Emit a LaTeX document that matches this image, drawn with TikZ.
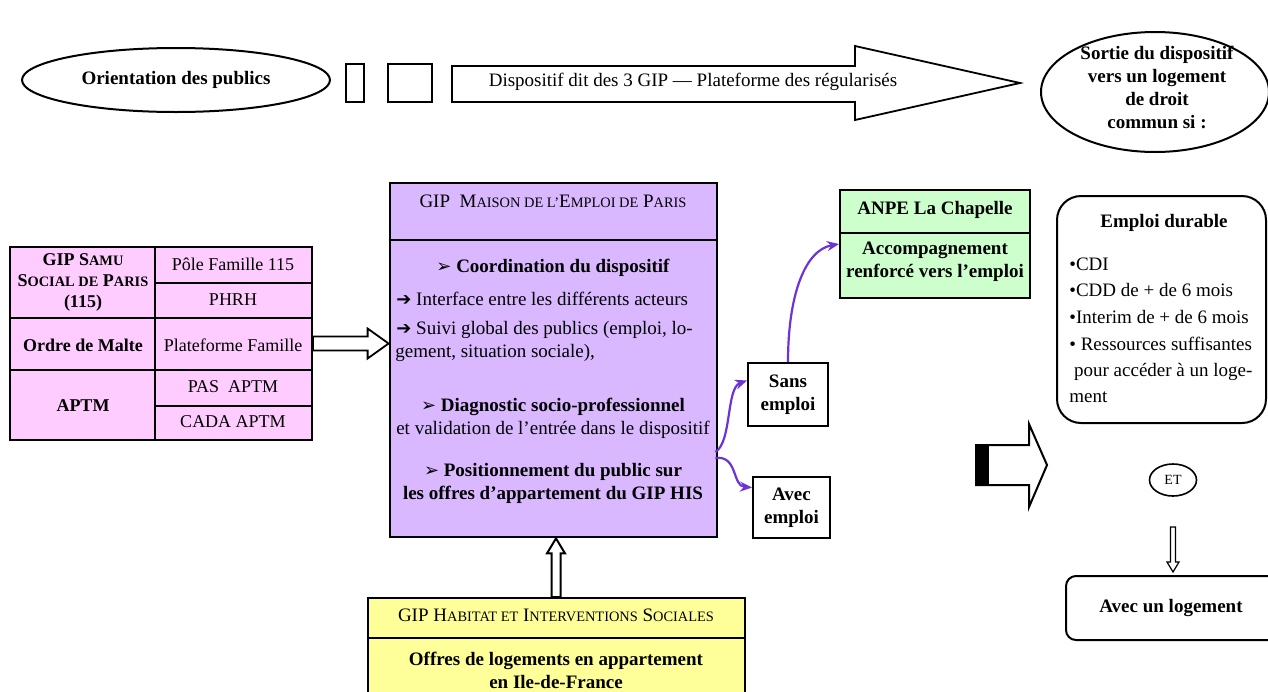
\documentclass[tikz,border=0pt]{standalone}
\usepackage{fontspec}
\setmainfont{Liberation Serif}
\newfontfamily\symfont{DejaVu Sans}
\usetikzlibrary{shapes.geometric,arrows.meta,calc}
\definecolor{pinkc}{RGB}{255,204,255}
\definecolor{lavc}{RGB}{217,184,255}
\definecolor{greenc}{RGB}{204,255,204}
\definecolor{yellowc}{RGB}{255,255,153}
\definecolor{purplec}{RGB}{108,52,214}
\newcommand\smallcap[1]{{\fontsize{7.2}{8}\selectfont #1}}
\newcommand\darr{{\symfont\fontsize{9}{9}\selectfont ➢}}
\newcommand\rarr{{\symfont\fontsize{9}{9}\selectfont ➔}}
\begin{document}
\begin{tikzpicture}[x=0.5pt,y=-0.5pt,
  txt/.style={font=\fontsize{9.5}{11.5}\selectfont, inner sep=0pt, align=center},
  btxt/.style={txt, font=\fontsize{9.5}{11.5}\selectfont\bfseries},
  boxline/.style={draw, line width=1pt},
  hollow/.style={draw, line width=0.9pt, fill=white, line join=miter},
  curvearrow/.style={draw=purplec, line width=1.1pt, -{Stealth[length=6pt,width=5pt]}}
]
\useasboundingbox (0,0) rectangle (1268,691);
\clip (0,0) rectangle (1268,691);

% ---------- top row ----------
\node[boxline, ellipse, minimum width=154pt, minimum height=32pt, inner sep=0pt, btxt] (orient) at (176,80) {Orientation des publics};
\node[boxline, minimum width=9pt, minimum height=19pt, inner sep=0pt] (sqa) at (355,83) {};
\node[boxline, minimum width=22pt, minimum height=19pt, inner sep=0pt] (sqb) at (410,83) {};
\draw[hollow] (452,66) -- (855,66) -- (855,46) -- (1020,83) -- (855,120) -- (855,102) -- (452,102) -- cycle;
\node[txt] (flow) at (693,82) {Dispositif dit des 3 GIP — Plateforme des régularisés};
\node[boxline, ellipse, minimum width=114pt, minimum height=60pt, inner sep=0pt] (sortie) at (1155,92) {};
\node[btxt] (sortietxt) at (1157,87) {Sortie du dispositif\\vers un logement\\de droit\\commun si :};

% ---------- left table ----------
\node[boxline, fill=pinkc, minimum width=151pt, minimum height=96.5pt, inner sep=0pt] (tbl) at (161,343.5) {};
\draw[line width=1pt] (155,247) -- (155,440);
\draw[line width=1pt] (10,318) -- (312,318);
\draw[line width=1pt] (10,370) -- (312,370);
\draw[line width=1pt] (155,283) -- (312,283);
\draw[line width=1pt] (155,406) -- (312,406);
\node[btxt, font=\fontsize{9}{10.5}\selectfont\bfseries] (samu) at (83,282) {GIP S\smallcap{AMU}\\S\smallcap{OCIAL DE} P\smallcap{ARIS}\\(115)};
\node[txt, font=\fontsize{9}{10.5}\selectfont] (pole) at (233,264) {Pôle Famille 115};
\node[txt, font=\fontsize{9}{10.5}\selectfont] (phrh) at (233,300) {PHRH};
\node[btxt, font=\fontsize{9}{10.5}\selectfont\bfseries] (malte) at (83,345) {Ordre de Malte};
\node[txt, font=\fontsize{9}{10.5}\selectfont] (platf) at (233,345) {Plateforme Famille};
\node[btxt, font=\fontsize{9}{10.5}\selectfont\bfseries] (aptm) at (83,406) {APTM};
\node[txt, font=\fontsize{9}{10.5}\selectfont] (pas) at (233,387) {PAS\ \ APTM};
\node[txt, font=\fontsize{9}{10.5}\selectfont] (cada) at (233,422) {CADA APTM};

% ---------- central box ----------
\node[draw, line width=1.4pt, fill=lavc, minimum width=163.5pt, minimum height=177pt, inner sep=0pt] (maison) at (553.5,360) {};
\draw[line width=1pt] (maison.west |- 0,240) -- (maison.east |- 0,240);
\node[txt] (mhead) at (553,201) {GIP\ \ M\smallcap{AISON DE L’}E\smallcap{MPLOI DE} P\smallcap{ARIS}};
\node[btxt] (coord) at (553,268) {\darr\ Coordination du dispositif};
\node[txt, anchor=west] (iface) at (396,299) {\rarr\ Interface entre les différents acteurs};
\node[txt, anchor=west] (suivi) at (396,330) {\rarr\ Suivi global des publics (emploi, lo-};
\node[txt, anchor=west] (suivib) at (395,353) {gement, situation sociale),};
\node[btxt] (diag) at (553,407) {\darr\ Diagnostic socio-professionnel};
\node[txt] (valid) at (553,430) {et validation de l’entrée dans le dispositif};
\node[btxt] (posit) at (553,483) {\darr\ Positionnement du public sur\\les offres d’appartement du GIP HIS};

% arrow table -> central box
\coordinate (ta) at (tbl.east);
\coordinate (tb) at (maison.west |- tbl.east);
\draw[hollow] ($(ta)+(0,-7)$) -- ($(tb)+(-21,-7)$) -- ($(tb)+(-21,-15)$) -- (tb) -- ($(tb)+(-21,15)$) -- ($(tb)+(-21,7)$) -- ($(ta)+(0,7)$) -- cycle;

% ---------- Sans / Avec emploi ----------
\node[boxline, fill=white, minimum width=40pt, minimum height=31.5pt, inner sep=0pt, btxt] (sans) at (788,394.5) {Sans\\emploi};
\node[boxline, fill=white, minimum width=38.5pt, minimum height=30.5pt, inner sep=0pt, btxt] (avec) at (791.5,507.5) {Avec\\emploi};

% ---------- ANPE ----------
\node[boxline, fill=greenc, minimum width=95pt, minimum height=54pt, inner sep=0pt] (anpe) at (935,244) {};
\draw[line width=1pt] (anpe.west |- 0,233) -- (anpe.east |- 0,233);
\node[btxt] (anpetitle) at (935,210) {ANPE La Chapelle};
\node[btxt] (anpebody) at (935,262) {Accompagnement\\renforcé vers l’emploi};

% purple connectors
\coordinate (m1) at ($(maison.east)+(-3,92)$);
\coordinate (m2) at ($(maison.east)+(-3,98)$);
\draw[curvearrow] (m1) .. controls (732,442) and (726,388) .. ($(sans.west)+(0,-14)$);
\draw[curvearrow] (m2) .. controls (738,455) and (732,486) .. ($(avec.west)+(0,-20)$);
\draw[curvearrow] (sans.north) .. controls (788,295) and (805,250) .. (anpe.west);

% ---------- right column ----------
\node[draw, line width=1pt, rounded corners=12pt, minimum width=104.5pt, minimum height=113.5pt, inner sep=0pt] (durable) at (1161.5,309.5) {};
\node[btxt] (durtitle) at (1164,223) {Emploi durable};
\node[txt, anchor=west, align=left, font=\fontsize{9.5}{13}\selectfont] (durlist) at (1069,330) {•CDI\\[0.3pt]•CDD de + de 6 mois\\[0.3pt]•Interim de + de 6 mois\\[0.3pt]• Ressources suffisantes\\\ pour accéder à un loge-\\ment};

% big hollow arrow
\draw[hollow, line width=1pt] (976,445) -- (1029,445) -- (1029,424) -- (1047,465) -- (1029,507) -- (1029,485) -- (976,485) -- cycle;
\fill[black] (976,445) rectangle (989,485);

\node[draw, line width=0.8pt, ellipse, minimum width=23.5pt, minimum height=16pt, inner sep=0pt, txt, font=\fontsize{7}{7}\selectfont] (et) at (1173,480) {ET};

\node[draw, line width=1pt, rounded corners=5pt, minimum width=108pt, minimum height=32pt, inner sep=0pt] (logement) at (1174,608) {};
\node[btxt] (logtxt) at (1171,608) {Avec un logement};

\coordinate (da) at (1173,527);
\coordinate (db) at (logement.north -| da);
\draw[line width=0.6pt, fill=white] ($(da)+(-2.5,0)$) -- ($(db)+(-2.5,-13)$) -- ($(db)+(-6,-13)$) -- ($(db)+(0,-3)$) -- ($(db)+(6,-13)$) -- ($(db)+(2.5,-13)$) -- ($(da)+(2.5,0)$) -- cycle;

% ---------- bottom yellow box ----------
\node[boxline, fill=yellowc, minimum width=188.5pt, minimum height=60pt, inner sep=0pt, anchor=north] (habitat) at (556,597) {};
\draw[line width=1pt] (habitat.west |- 0,638) -- (habitat.east |- 0,638);
\node[txt] (hhead) at (556,615) {GIP H\smallcap{ABITAT ET} I\smallcap{NTERVENTIONS} S\smallcap{OCIALES}};
\node[btxt] (hbody) at (556,670) {Offres de logements en appartement\\en Ile-de-France};

% hollow up arrow
\coordinate (ua) at (habitat.north);
\coordinate (ub) at (ua |- maison.south);
\draw[hollow, line width=1pt] ($(ua)+(-4.5,0)$) -- ($(ub)+(-4.5,15)$) -- ($(ub)+(-9,15)$) -- (ub) -- ($(ub)+(9,15)$) -- ($(ub)+(4.5,15)$) -- ($(ua)+(4.5,0)$) -- cycle;
\end{tikzpicture}
\end{document}
